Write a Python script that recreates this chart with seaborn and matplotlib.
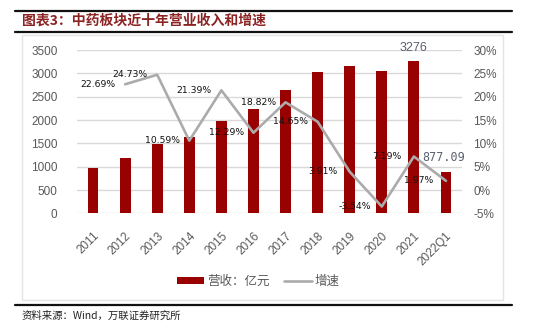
import matplotlib
matplotlib.use("Agg")
import matplotlib.pyplot as plt
from matplotlib.patches import Patch, Rectangle
from matplotlib.lines import Line2D
import seaborn as sns

# Revenue of the TCM sector (100 million yuan) and year-on-year growth (%)
years = ["2011", "2012", "2013", "2014", "2015", "2016", "2017",
         "2018", "2019", "2020", "2021", "2022Q1"]
revenue = [966, 1185, 1478, 1635, 1985, 2229, 2649, 3037, 3156, 3044, 3276, 877.09]
growth_years = ["2012", "2013", "2014", "2015", "2016", "2017",
                "2018", "2019", "2020", "2021", "2022Q1"]
growth = [22.69, 24.73, 10.59, 21.39, 12.29, 18.82, 14.65, 3.91, -3.54, 7.19, 1.97]
labelled_bars = ["2021", "2022Q1"]

left_ticks = [0, 500, 1000, 1500, 2000, 2500, 3000, 3500]
right_ticks = [-5, 0, 5, 10, 15, 20, 25, 30]

title = "图表3：中药板块近十年营业收入和增速"
source = "资料来源：Wind，万联证券研究所"
legend_labels = ["营收：亿元", "增速"]

BAR = "#990000"
LINE = "#ABABAB"
TICK = "#595959"
CJK = ["Noto Sans CJK SC", "DejaVu Sans"]

sns.set_theme(style="white")
plt.rcParams["font.family"] = ["Liberation Sans", "Noto Sans CJK SC", "DejaVu Sans"]

W, H = 537, 329
fig = plt.figure(figsize=(W / 100, H / 100), dpi=100)
fig.patch.set_facecolor("white")


def fx(px):
    return px / W


def fy(py):
    return 1 - py / H


ax = fig.add_axes([fx(77), fy(213.3), fx(462) - fx(77), fy(50.2) - fy(213.3)])
ax2 = ax.twinx()

sns.barplot(x=years, y=revenue, color=BAR, width=0.34, saturation=1,
            edgecolor="none", ax=ax, zorder=2)
ax.set_xlim(-0.5, len(years) - 0.5)
ax.set_ylim(left_ticks[0], left_ticks[-1])
ax.set_yticks(left_ticks)
ax.yaxis.grid(True, color="#D9D9D9", linewidth=1.0, zorder=0)
ax.set_axisbelow(True)
ax.set_xlabel("")
ax.set_ylabel("")
for s in ax.spines.values():
    s.set_visible(False)
ax.tick_params(axis="y", length=0, pad=14, labelsize=8.5, labelcolor=TICK)
ax.tick_params(axis="x", length=0, pad=12, labelsize=8.5, labelcolor=TICK)
ax.set_xticks(range(len(years)))
ax.set_xticklabels(years, rotation=45, ha="right", rotation_mode="anchor")

# growth line on the secondary axis
gx = [years.index(y) for y in growth_years]
sns.lineplot(x=gx, y=growth, color=LINE, linewidth=1.9, ax=ax2, zorder=3)
ax2.set_ylim(right_ticks[0], right_ticks[-1])
ax2.set_yticks(right_ticks)
ax2.set_yticklabels([f"{t}%" for t in right_ticks])
ax2.set_ylabel("")
for s in ax2.spines.values():
    s.set_visible(False)
ax2.tick_params(axis="y", length=0, pad=8, labelsize=8.5, labelcolor=TICK)
ax2.grid(False)

for x, g in zip(gx, growth):
    ax2.annotate(f"{g:.2f}%", xy=(x, g), xytext=(-27, 0), textcoords="offset pixels",
                 ha="center", va="center", fontsize=6.7, color="#111111",
                 family="DejaVu Sans", zorder=6)

for name in labelled_bars:
    i = years.index(name)
    v = revenue[i]
    if v > 2000:
        ax.annotate(f"{v:g}", xy=(i, v), xytext=(0, 13), textcoords="offset pixels",
                    ha="center", va="center", fontsize=9, color="#5A6070")
    else:
        ax.annotate(f"{v:g}", xy=(i, v), xytext=(-2, 15), textcoords="offset pixels",
                    ha="center", va="center", fontsize=8.5, color="#5A6070",
                    family="DejaVu Sans Mono")

# legend
handles = [Patch(facecolor=BAR, edgecolor="none"),
           Line2D([0], [0], color=LINE, linewidth=1.9)]
fig.legend(handles, legend_labels, loc="center", bbox_to_anchor=(fx(258), fy(281)),
           ncol=2, frameon=False, handlelength=2.2, handleheight=0.5,
           handletextpad=0.2, columnspacing=1.2,
           prop={"family": CJK, "size": 9}, labelcolor=TICK)

# frame around the chart area
fig.add_artist(Rectangle((fx(22), fy(300)), fx(503) - fx(22), fy(35) - fy(300),
                         transform=fig.transFigure, facecolor="none",
                         edgecolor="#E4E4E4", linewidth=1.0))

# header and footer rules
for py in (10.5, 31.5, 305):
    fig.add_artist(Line2D([fx(15), fx(512)], [fy(py), fy(py)],
                          transform=fig.transFigure, color="#111111", linewidth=1.6))

fig.text(fx(22), fy(21), title, ha="left", va="center", fontsize=10,
         fontweight="bold", color="#8C2323", family=CJK)
fig.text(fx(22), fy(316), source, ha="left", va="center", fontsize=7.5,
         color="#222222", family=CJK, style="italic")

fig.savefig("out.png", dpi=100, facecolor="white")
